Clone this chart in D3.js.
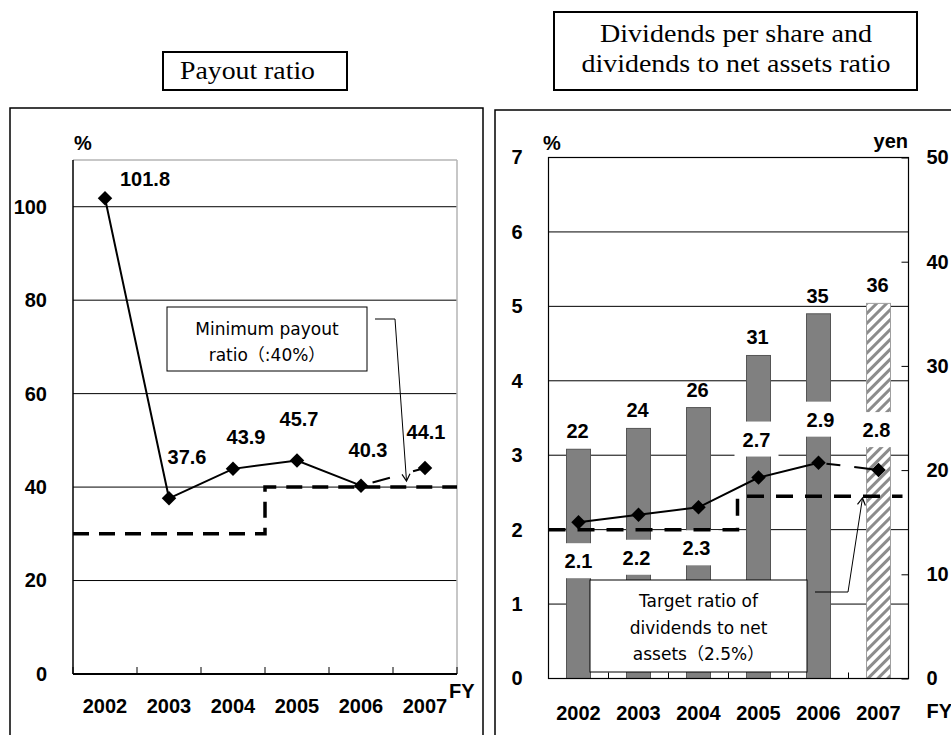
<!DOCTYPE html>
<html>
<head>
<meta charset="utf-8">
<script src="https://cdn.jsdelivr.net/npm/d3@7"></script>
<style>
  body { margin: 0; background: #fff; }
  .num { font-family: "Liberation Sans", Arial, sans-serif; font-weight: bold; font-size: 20px; fill: #000; }
  .note { font-family: "DejaVu Sans", "Noto Sans CJK JP", sans-serif; font-size: 17px; fill: #000; }
  .title { font-family: "Liberation Serif", "Times New Roman", serif; font-size: 26px; fill: #000; }
</style>
</head>
<body>
<script>
// data
var years = ["2002", "2003", "2004", "2005", "2006", "2007"];
var payoutRatio = [101.8, 37.6, 43.9, 45.7, 40.3, 44.1];
var minPayout = [30, 40];          // before / from FY2005
var payoutTicks = [0, 20, 40, 60, 80, 100];

var dividendsYen = [22, 24, 26, 31, 35, 36];
var netAssetsRatio = [2.1, 2.2, 2.3, 2.7, 2.9, 2.8];
var targetRatio = [2.0, 2.45];     // before / from FY2005
var pctTicks = [0, 1, 2, 3, 4, 5, 6, 7];
var yenTicks = [0, 10, 20, 30, 40, 50];
var stepYear = "2005";

// label placement (px offsets from the point)
var payoutLabelDx = [40, 18, 13, 2, 7, 1];
var payoutLabelDy = [-12, -34, -25, -34, -29, -29];
var ratioLabelDx = [0, -2, -2, -2, 2, -2];
var ratioLabelDy = [46, 50, 48, -31, -36, -33];

var svg = d3.select("body").append("svg")
    .attr("width", 951)
    .attr("height", 735);

var defs = svg.append("defs");
defs.append("marker")
    .attr("id", "arrow")
    .attr("viewBox", "-10 -6 12 12")
    .attr("markerWidth", 12).attr("markerHeight", 12)
    .attr("markerUnits", "userSpaceOnUse")
    .attr("orient", "auto")
  .append("path")
    .attr("d", "M-7,-4 L0,0 L-7,4")
    .attr("fill", "none")
    .attr("stroke", "#000")
    .attr("stroke-width", 1.2);

var hatch = defs.append("pattern")
    .attr("id", "hatch")
    .attr("patternUnits", "userSpaceOnUse")
    .attr("width", 7).attr("height", 7)
    .attr("patternTransform", "rotate(45)");
hatch.append("rect").attr("width", 7).attr("height", 7).attr("fill", "#fff");
hatch.append("line").attr("x1", 1.5).attr("x2", 1.5).attr("y1", 0).attr("y2", 7)
    .attr("stroke", "#8c8c8c").attr("stroke-width", 3);

var diamond = d3.symbol(d3.symbolSquare, 105);

function hline(g, x1, x2, y, color, w){
  g.append("line").attr("x1", x1).attr("x2", x2).attr("y1", y).attr("y2", y)
    .attr("stroke", color).attr("stroke-width", w);
}
function vline(g, x, y1, y2, color, w){
  g.append("line").attr("x1", x).attr("x2", x).attr("y1", y1).attr("y2", y2)
    .attr("stroke", color).attr("stroke-width", w);
}
function styleText(sel){
  sel.selectAll("text").attr("class", "num").attr("font-size", null).attr("font-family", null);
}

//---------------- left panel : payout ratio
var left = svg.append("g");

left.append("rect")
    .attr("x", 10).attr("y", 108).attr("width", 473).attr("height", 700)
    .attr("fill", "none").attr("stroke", "#000").attr("stroke-width", 1.5);

left.append("rect")
    .attr("x", 163).attr("y", 52).attr("width", 184).attr("height", 38)
    .attr("fill", "none").attr("stroke", "#000").attr("stroke-width", 2);
left.append("text").attr("class", "title")
    .attr("x", 247.5).attr("y", 79)
    .attr("text-anchor", "middle")
    .attr("textLength", 135).attr("lengthAdjust", "spacingAndGlyphs")
    .text("Payout ratio");

var xL = d3.scaleBand().domain(years).range([73, 457]);
var yL = d3.scaleLinear().domain([0, 110]).range([674, 160]);

payoutTicks.filter(d => d > 0).forEach(d => hline(left, 73, 457, yL(d), "#000", 1));
hline(left, 73, 457, yL(110), "#b4b4b4", 1.5);
vline(left, 457, yL(110), yL(0), "#b4b4b4", 1.5);
vline(left, 73, yL(110), yL(0), "#000", 1.5);
hline(left, 73, 457, yL(0), "#000", 2);
d3.range(years.length + 1).forEach(i => {
  vline(left, 73 + i * xL.step(), yL(0), yL(0) - 7, "#000", 1);
});

left.append("g")
    .attr("transform", "translate(73,0)")
    .call(d3.axisLeft(yL).tickValues(payoutTicks).tickSize(0).tickPadding(26))
    .call(g => g.select(".domain").remove())
    .call(styleText);

left.append("g")
    .attr("transform", "translate(0,674)")
    .call(d3.axisBottom(xL).tickSize(0).tickPadding(25))
    .call(g => g.select(".domain").remove())
    .call(styleText);

left.append("text").attr("class", "num").attr("x", 449).attr("y", 698).text("FY");
left.append("text").attr("class", "num").attr("x", 74).attr("y", 150).text("%");

// minimum payout step line
left.append("path")
    .attr("d", d3.line()([
      [73, yL(minPayout[0])], [xL(stepYear), yL(minPayout[0])],
      [xL(stepYear), yL(minPayout[1])], [457, yL(minPayout[1])]
    ]))
    .attr("fill", "none").attr("stroke", "#000")
    .attr("stroke-width", 3.5).attr("stroke-dasharray", "16,10");

var payoutPts = years.map((y, i) => ({year: y, v: payoutRatio[i], i: i}));
var lineL = d3.line().x(d => xL(d.year) + xL.bandwidth() / 2).y(d => yL(d.v));

left.append("path")
    .attr("d", lineL(payoutPts.slice(0, 5)))
    .attr("fill", "none").attr("stroke", "#000").attr("stroke-width", 2);
left.append("path")
    .attr("d", lineL(payoutPts.slice(4)))
    .attr("fill", "none").attr("stroke", "#000").attr("stroke-width", 2)
    .attr("stroke-dasharray", "0,12,18,12");

left.selectAll(".mk")
  .data(payoutPts)
  .enter()
    .append("path")
    .attr("d", diamond)
    .attr("transform", d => `translate(${xL(d.year) + xL.bandwidth() / 2},${yL(d.v)}) rotate(45)`)
    .attr("fill", "#000");

left.selectAll(".lbl")
  .data(payoutPts)
  .enter()
    .append("text")
    .attr("class", "num")
    .attr("text-anchor", "middle")
    .attr("x", d => xL(d.year) + xL.bandwidth() / 2 + payoutLabelDx[d.i])
    .attr("y", d => yL(d.v) + payoutLabelDy[d.i])
    .text(d => d.v.toFixed(1));

// callout
left.append("rect")
    .attr("x", 167).attr("y", 307).attr("width", 200).attr("height", 64)
    .attr("fill", "#fff").attr("stroke", "#000").attr("stroke-width", 1);
left.append("text").attr("class", "note").attr("text-anchor", "middle")
    .attr("x", 267).attr("y", 335).text("Minimum payout");
left.append("text").attr("class", "note").attr("text-anchor", "middle")
    .attr("x", 267).attr("y", 361).text("ratio（:40%）");
left.append("path")
    .attr("d", "M375,319 L395,319 L406.5,481")
    .attr("fill", "none").attr("stroke", "#000").attr("stroke-width", 1)
    .attr("marker-end", "url(#arrow)");

//---------------- right panel : dividends
var right = svg.append("g");

right.append("rect")
    .attr("x", 495).attr("y", 110).attr("width", 500).attr("height", 700)
    .attr("fill", "none").attr("stroke", "#000").attr("stroke-width", 1.5);

right.append("rect")
    .attr("x", 554).attr("y", 12).attr("width", 363).attr("height", 78)
    .attr("fill", "none").attr("stroke", "#000").attr("stroke-width", 2);
right.append("text").attr("class", "title")
    .attr("x", 736).attr("y", 42).attr("text-anchor", "middle")
    .attr("textLength", 272).attr("lengthAdjust", "spacingAndGlyphs")
    .text("Dividends per share and");
right.append("text").attr("class", "title")
    .attr("x", 736).attr("y", 72).attr("text-anchor", "middle")
    .attr("textLength", 309).attr("lengthAdjust", "spacingAndGlyphs")
    .text("dividends to net assets ratio");

var x0 = 548.5, x1 = 908.5;
var xR = d3.scaleBand().domain(years).range([x0, x1]);
var yP = d3.scaleLinear().domain([0, 7]).range([678.5, 157.5]);
var yY = d3.scaleLinear().domain([0, 50]).range([678.5, 157.5]);
var barW = xR.bandwidth() * 0.4;

pctTicks.filter(d => d > 0 && d < 7).forEach(d => hline(right, x0, x1, yP(d), "#000", 1));

var divData = years.map((y, i) => ({year: y, v: dividendsYen[i], r: netAssetsRatio[i], i: i}));

right.selectAll(".bar")
  .data(divData)
  .enter()
    .append("rect")
    .attr("x", d => xR(d.year) + (xR.bandwidth() - barW) / 2)
    .attr("width", barW)
    .attr("y", d => yY(d.v))
    .attr("height", d => yY(0) - yY(d.v))
    .attr("fill", d => d.i === 5 ? "url(#hatch)" : "#808080")
    .attr("stroke", d => d.i === 5 ? "#a0a0a0" : "#555")
    .attr("stroke-width", 1);

right.selectAll(".blbl")
  .data(divData)
  .enter()
    .append("text")
    .attr("class", "num")
    .attr("text-anchor", "middle")
    .attr("x", d => xR(d.year) + xR.bandwidth() / 2 - 1)
    .attr("y", d => yY(d.v) - 11)
    .text(d => d.v);

// white boxes behind ratio labels
right.selectAll(".rbg")
  .data(divData)
  .enter()
    .append("rect")
    .attr("x", d => xR(d.year) + xR.bandwidth() / 2 + ratioLabelDx[d.i] - 22)
    .attr("y", d => yP(d.r) + ratioLabelDy[d.i] - 25)
    .attr("width", 44).attr("height", 35)
    .attr("fill", "#fff");

// target step line
var stepX = xR(stepYear) + 9;
right.append("path")
    .attr("d", d3.line()([
      [x0, yP(targetRatio[0])], [stepX, yP(targetRatio[0])],
      [stepX, yP(targetRatio[1])], [x1 - 6, yP(targetRatio[1])]
    ]))
    .attr("fill", "none").attr("stroke", "#000")
    .attr("stroke-width", 3.5).attr("stroke-dasharray", "17,12");

var lineR = d3.line().x(d => xR(d.year) + xR.bandwidth() / 2).y(d => yP(d.r));
right.append("path")
    .attr("d", lineR(divData.slice(0, 5)))
    .attr("fill", "none").attr("stroke", "#000").attr("stroke-width", 2);
right.append("path")
    .attr("d", lineR(divData.slice(4)))
    .attr("fill", "none").attr("stroke", "#000").attr("stroke-width", 2)
    .attr("stroke-dasharray", "0,8,14,14,16");

right.selectAll(".mk")
  .data(divData)
  .enter()
    .append("path")
    .attr("d", diamond)
    .attr("transform", d => `translate(${xR(d.year) + xR.bandwidth() / 2},${yP(d.r)}) rotate(45)`)
    .attr("fill", "#000");

right.selectAll(".rlbl")
  .data(divData)
  .enter()
    .append("text")
    .attr("class", "num")
    .attr("text-anchor", "middle")
    .attr("x", d => xR(d.year) + xR.bandwidth() / 2 + ratioLabelDx[d.i])
    .attr("y", d => yP(d.r) + ratioLabelDy[d.i])
    .text(d => d.r.toFixed(1));

// callout
right.append("rect")
    .attr("x", 590).attr("y", 580).attr("width", 217).attr("height", 92)
    .attr("fill", "#fff").attr("stroke", "#000").attr("stroke-width", 1);
["Target ratio of", "dividends to net", "assets（2.5%）"].forEach((t, i) => {
  right.append("text").attr("class", "note").attr("text-anchor", "middle")
      .attr("x", 698.5).attr("y", 607 + i * 26.6).text(t);
});
right.append("path")
    .attr("d", "M815,592 L848,592 L862.5,498")
    .attr("fill", "none").attr("stroke", "#000").attr("stroke-width", 1)
    .attr("marker-end", "url(#arrow)");

// frame and axes
right.append("rect")
    .attr("x", x0).attr("y", yP(7)).attr("width", x1 - x0).attr("height", yP(0) - yP(7))
    .attr("fill", "none").attr("stroke", "#000").attr("stroke-width", 1.2);
d3.range(years.length + 1).forEach(i => {
  vline(right, x0 + i * xR.step(), yP(0), yP(0) - 6, "#000", 1);
});

right.append("g")
    .attr("transform", `translate(${x0},0)`)
    .call(d3.axisLeft(yP).tickValues(pctTicks).tickFormat(d3.format("d")).tickSize(0).tickPadding(26))
    .call(g => g.select(".domain").remove())
    .call(styleText);

right.append("g")
    .attr("transform", `translate(${x1},0)`)
    .call(d3.axisRight(yY).tickValues(yenTicks).tickFormat(d3.format("d")).tickSize(-7).tickPadding(18))
    .call(g => g.select(".domain").remove())
    .call(g => g.selectAll("line").attr("stroke", "#000"))
    .call(styleText);

right.append("g")
    .attr("transform", `translate(0,${yP(0)})`)
    .call(d3.axisBottom(xR).tickSize(0).tickPadding(27))
    .call(g => g.select(".domain").remove())
    .call(styleText);

right.append("text").attr("class", "num").attr("x", 926.5).attr("y", 718).text("FY");
right.append("text").attr("class", "num").attr("x", 543).attr("y", 150).text("%");
right.append("text").attr("class", "num").attr("x", 908).attr("y", 148)
    .attr("text-anchor", "end").text("yen");
</script>
</body>
</html>
